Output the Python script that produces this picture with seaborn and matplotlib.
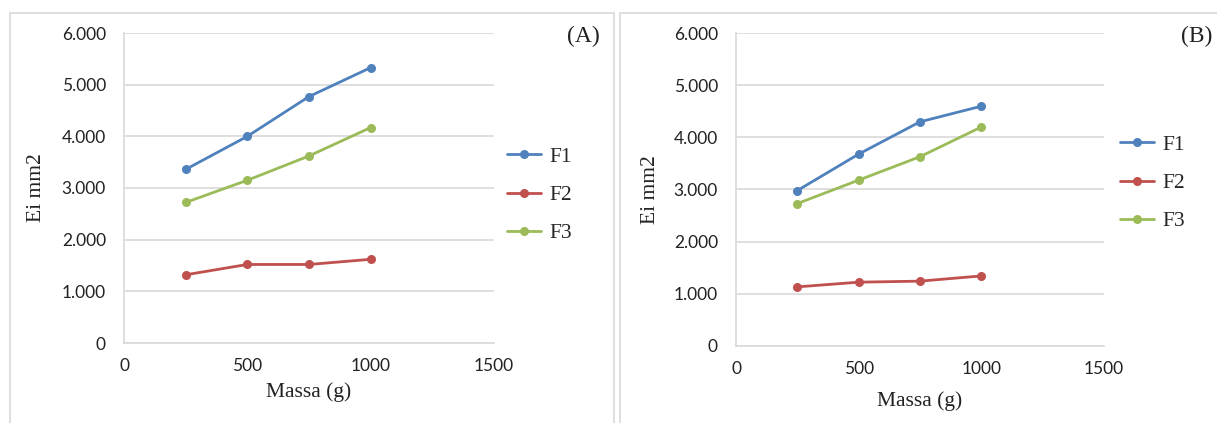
import pandas as pd
import matplotlib.pyplot as plt
import seaborn as sns
from matplotlib.patches import Rectangle
from matplotlib.ticker import FuncFormatter

massa = [250, 500, 750, 1000]
series = ["F1", "F2", "F3"]

# Panel A
a_f1 = [3360, 4000, 4770, 5330]
a_f2 = [1320, 1520, 1520, 1620]
a_f3 = [2720, 3150, 3620, 4170]

# Panel B
b_f1 = [2980, 3680, 4300, 4600]
b_f2 = [1130, 1220, 1240, 1340]
b_f3 = [2730, 3180, 3630, 4200]

colors = ["#4f81bd", "#c0504d", "#9bbb59"]
y_ticks = [0, 1000, 2000, 3000, 4000, 5000, 6000]
x_ticks = [0, 500, 1000, 1500]


def to_long(values):
    rows = []
    for name, vals in zip(series, values):
        for m, v in zip(massa, vals):
            rows.append({"Massa": m, "Ei": v, "Serie": name})
    return pd.DataFrame(rows)


sns.set_theme(style="white")
serif = ["Liberation Serif", "DejaVu Serif"]
sans = ["Lato", "DejaVu Sans"]

fig = plt.figure(figsize=(12.17, 4.23), dpi=100)

# panel frames
fig.patches.append(Rectangle((10 / 1217, -0.1), 604 / 1217, 1 - 13 / 423 + 0.1,
                             transform=fig.transFigure, fill=False,
                             edgecolor="#d9d9d9", linewidth=1.2))
fig.patches.append(Rectangle((620 / 1217, -0.1), 0.6, 1 - 13 / 423 + 0.1,
                             transform=fig.transFigure, fill=False,
                             edgecolor="#d9d9d9", linewidth=1.2))

# tag, values, axes rect, legend anchor, tag pos, (x tick pad, y tick pad, xlabel pad, ylabel pad)
panels = [
    ("(A)", [a_f1, a_f2, a_f3], [124 / 1217, 80 / 423, 370 / 1217, 310 / 423],
     (498 / 1217, 1 - 138 / 423), (600 / 1217, 1 - 36 / 423), (11, 13, 6, 11)),
    ("(B)", [b_f1, b_f2, b_f3], [736 / 1217, 77.3 / 423, 368 / 1217, 312.4 / 423],
     (1111 / 1217, 1 - 126 / 423), (1212 / 1217, 1 - 36 / 423), (11, 13, 10, 10)),
]

for tag, vals, rect, leg_pos, tag_pos, pads in panels:
    ax = fig.add_axes(rect)
    df = to_long(vals)
    sns.lineplot(data=df, x="Massa", y="Ei", hue="Serie", palette=colors,
                 marker="o", markersize=6.5, markeredgewidth=0, linewidth=2,
                 ax=ax, legend=True)
    ax.set_xlim(0, 1500)
    ax.set_ylim(0, 6000)
    ax.set_xticks(x_ticks)
    ax.set_yticks(y_ticks)
    ax.yaxis.set_major_formatter(FuncFormatter(lambda v, p: f"{int(v):,}".replace(",", ".")))
    ax.grid(axis="y", color="#d9d9d9", linewidth=1.2)
    ax.grid(axis="x", visible=False)
    for s in ["top", "right"]:
        ax.spines[s].set_visible(False)
    for s in ["left", "bottom"]:
        ax.spines[s].set_color("#d9d9d9")
        ax.spines[s].set_linewidth(1.2)
    ax.tick_params(length=0, labelsize=12.5, colors="#222222")
    ax.tick_params(axis="x", pad=pads[0])
    ax.tick_params(axis="y", pad=pads[1])
    for lab in ax.get_xticklabels() + ax.get_yticklabels():
        lab.set_family(sans)
    ax.set_xlabel("Massa (g)", family=serif, fontsize=15.5, color="#222222", labelpad=pads[2])
    ax.set_ylabel("Ei mm2", family=serif, fontsize=15.5, color="#222222", labelpad=pads[3])
    handles, labels = ax.get_legend_handles_labels()
    ax.legend(handles, labels, loc="upper left", bbox_to_anchor=leg_pos,
              bbox_transform=fig.transFigure, frameon=False,
              prop={"family": serif, "size": 15.5}, labelspacing=0.85,
              handlelength=1.6, handletextpad=0.4, borderaxespad=0)
    fig.text(tag_pos[0], tag_pos[1], tag, family=serif, fontsize=17,
             ha="right", va="center", color="#222222")

fig.savefig("out.png", dpi=100)
